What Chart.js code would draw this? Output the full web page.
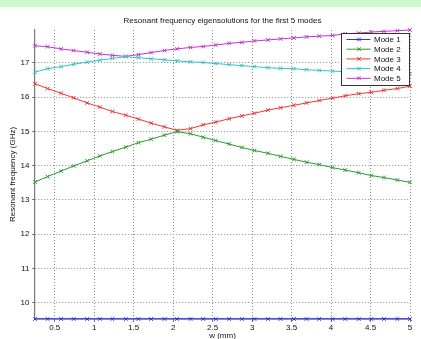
<!DOCTYPE html>
<html>
<head>
<meta charset="utf-8">
<script src="https://cdn.jsdelivr.net/npm/chart.js@4/dist/chart.umd.min.js"></script>
<style>
  body { margin: 0; background: #fff; overflow: hidden; }
  #band { position: absolute; left: 0; top: 0; width: 421px; height: 7px; background: #ccfacc; }
  canvas { display: block; }
</style>
</head>
<body>
<div id="band"></div>
<canvas id="chart" width="421" height="341"></canvas>
<script>
const widths = [0.25, 0.41, 0.58, 0.74, 0.91, 1.07, 1.23, 1.40, 1.56, 1.72,
    1.89, 2.05, 2.22, 2.38, 2.54, 2.71, 2.87, 3.03, 3.20, 3.36,
    3.53, 3.69, 3.85, 4.02, 4.18, 4.35, 4.51, 4.67, 4.84, 5.00];

const mode1 = [9.52, 9.52, 9.52, 9.52, 9.52, 9.52, 9.52, 9.52, 9.52, 9.52,
    9.52, 9.52, 9.52, 9.52, 9.52, 9.52, 9.52, 9.52, 9.52, 9.52,
    9.52, 9.52, 9.52, 9.52, 9.52, 9.52, 9.52, 9.52, 9.52, 9.52];
const mode2 = [13.52, 13.68, 13.84, 13.99, 14.14, 14.28, 14.41, 14.54, 14.67, 14.77,
    14.89, 14.99, 14.93, 14.83, 14.73, 14.63, 14.53, 14.44, 14.36, 14.27,
    14.18, 14.10, 14.03, 13.94, 13.87, 13.79, 13.71, 13.65, 13.58, 13.51];
const mode3 = [16.39, 16.25, 16.11, 15.98, 15.83, 15.71, 15.58, 15.47, 15.36, 15.24,
    15.13, 15.03, 15.08, 15.19, 15.27, 15.37, 15.45, 15.53, 15.62, 15.69,
    15.76, 15.83, 15.90, 15.97, 16.04, 16.10, 16.14, 16.20, 16.25, 16.32];
const mode4 = [16.73, 16.83, 16.89, 16.96, 17.02, 17.08, 17.13, 17.18, 17.15, 17.12,
    17.09, 17.06, 17.03, 17.01, 16.98, 16.95, 16.92, 16.89, 16.86, 16.84,
    16.83, 16.80, 16.78, 16.76, 16.74, 16.73, 16.71, 16.70, 16.69, 16.68];
const mode5 = [17.50, 17.47, 17.41, 17.36, 17.31, 17.26, 17.22, 17.19, 17.24, 17.30,
    17.36, 17.41, 17.45, 17.48, 17.52, 17.57, 17.60, 17.64, 17.67, 17.70,
    17.73, 17.76, 17.78, 17.80, 17.85, 17.87, 17.90, 17.92, 17.94, 17.96];

const modeNames = ["Mode 1", "Mode 2", "Mode 3", "Mode 4", "Mode 5"];
const modeColors = ["#2f2ff5", "#2f982f", "#ef3535", "#35c2c2", "#bf35c8"];
const xTicks = [0.5, 1, 1.5, 2, 2.5, 3, 3.5, 4, 4.5, 5];
const yTicks = [10, 11, 12, 13, 14, 15, 16, 17];

const titleText = "Resonant frequency eigensolutions for the first 5 modes";
const fontFamily = "'Liberation Sans', Arial, Helvetica, sans-serif";

function toPoints(values) {
    return values.map((v, i) => ({ x: widths[i], y: v }));
}

const allModes = [mode1, mode2, mode3, mode4, mode5];
const datasets = allModes.map((values, i) => ({
    label: modeNames[i],
    data: toPoints(values),
    borderColor: modeColors[i],
    backgroundColor: modeColors[i],
    borderWidth: 1,
    pointStyle: "crossRot",
    pointRadius: 2.6,
    pointBorderWidth: 1,
    tension: 0,
    clip: false,
}));

// title over the plot area + boxed legend in the top right corner
const matlabLook = {
    id: "matlabLook",
    afterDraw(chart) {
        const ctx = chart.ctx;
        const area = chart.chartArea;
        ctx.save();
        ctx.font = "8px " + fontFamily;
        ctx.fillStyle = "#111";
        ctx.textAlign = "center";
        ctx.textBaseline = "middle";
        ctx.fillText(titleText, (area.left + area.right) / 2, 20.5);

        const boxW = 68, rowH = 9.7;
        const boxH = 52;
        const bx = area.right - boxW - 0.5, by = 33.5;
        ctx.fillStyle = "#fff";
        ctx.fillRect(bx, by, boxW, boxH);
        ctx.strokeStyle = "#333";
        ctx.lineWidth = 1;
        ctx.strokeRect(bx, by, boxW, boxH);

        ctx.textAlign = "left";
        chart.data.datasets.forEach((ds, i) => {
            const y = by + 6 + i * rowH;
            ctx.strokeStyle = ds.borderColor;
            ctx.beginPath();
            ctx.moveTo(bx + 5, y);
            ctx.lineTo(bx + 29, y);
            ctx.stroke();
            Chart.helpers.drawPoint(ctx, { pointStyle: "crossRot", radius: 2.6, borderWidth: 1 }, bx + 17.5, y);
            ctx.fillStyle = "#111";
            ctx.fillText(ds.label, bx + 32.5, y + 0.5);
        });
        ctx.restore();
    },
};

new Chart(document.getElementById("chart"), {
    type: "line",
    data: { datasets: datasets },
    options: {
        responsive: false,
        animation: false,
        devicePixelRatio: 1,
        layout: { padding: { top: 30, right: 11, left: 0, bottom: 0 } },
        plugins: {
            legend: { display: false },
            title: { display: false },
            tooltip: { enabled: false },
        },
        scales: {
            x: {
                type: "linear",
                min: 0.25,
                max: 5,
                afterBuildTicks: (scale) => { scale.ticks = xTicks.map((v) => ({ value: v })); },
                afterFit: (scale) => { scale.height = 22; },
                ticks: {
                    autoSkip: false,
                    maxRotation: 0,
                    padding: 1,
                    color: "#111",
                    font: { size: 8, family: fontFamily },
                    callback: (v) => String(v),
                },
                grid: {
                    color: "#8a8a8a",
                    tickColor: "#777",
                    tickLength: 3,
                    lineWidth: 1,
                },
                border: { display: true, color: "#7a7a7a", width: 1.2, dash: [1, 2] },
                title: {
                    display: true,
                    text: "w (mm)",
                    color: "#111",
                    font: { size: 8, family: fontFamily },
                    padding: { top: 0, bottom: 0 },
                },
            },
            y: {
                min: 9.52,
                max: 17.96,
                afterBuildTicks: (scale) => { scale.ticks = yTicks.map((v) => ({ value: v })); },
                afterFit: (scale) => { scale.width = 35; },
                ticks: {
                    padding: 2.5,
                    color: "#111",
                    font: { size: 8, family: fontFamily },
                    callback: (v) => String(v),
                },
                grid: {
                    color: "#8a8a8a",
                    tickColor: "#777",
                    tickLength: 3,
                    lineWidth: 1,
                },
                border: { display: true, color: "#7a7a7a", width: 1.2, dash: [1, 2] },
                title: {
                    display: true,
                    text: "Resonant frequency (GHz)",
                    color: "#111",
                    font: { size: 8, family: fontFamily },
                    padding: { top: 8, bottom: 0 },
                },
            },
        },
    },
    plugins: [matlabLook],
});
</script>
</body>
</html>
